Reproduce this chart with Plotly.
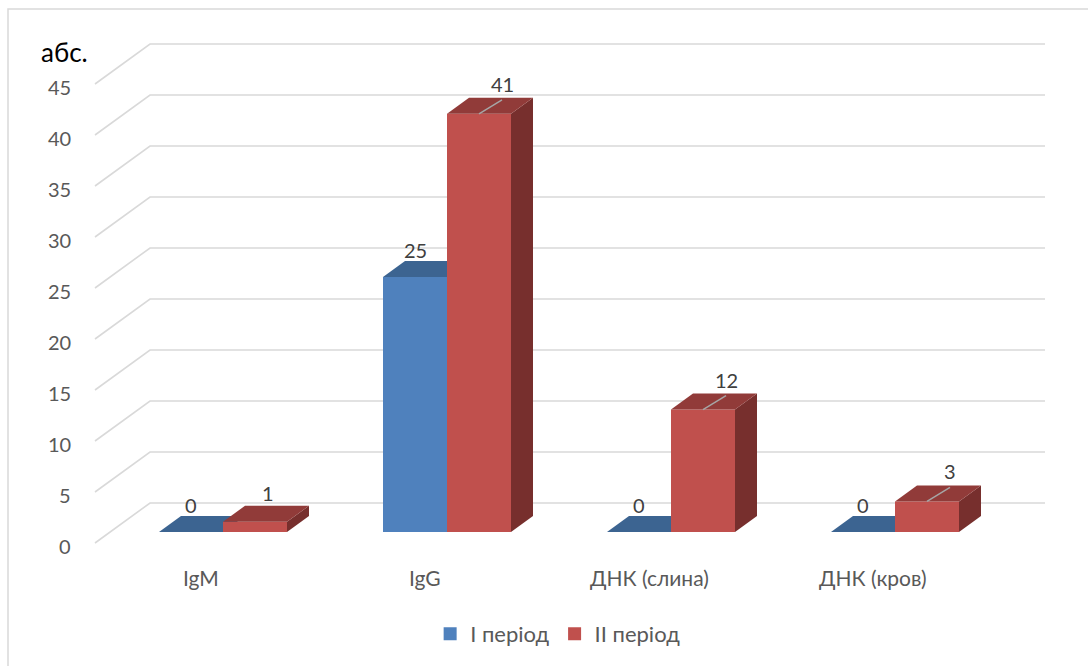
import plotly.graph_objects as go

# ---- data ----
categories = ["IgM", "IgG", "ДНК (слина)", "ДНК (кров)"]
period1 = [0, 25, 0, 0]
period2 = [1, 41, 12, 3]
series_names = ["I період", "II період"]
y_ticks = [0, 5, 10, 15, 20, 25, 30, 35, 40, 45]
y_unit_label = "абс."

# ---- styles / geometry (pixel based) ----
W, H = 1088, 666
PXX = 224.0          # px per category
PXY = 10.2           # px per value unit
X0PX = 223.0         # pixel x of first category centre (front face)
Y0PX = 532.0         # pixel y of value 0 on the bars' front plane
BAR_W = 64.0 / PXX   # bar width in category units
FLOOR_D = (55.0, -40.0)   # oblique vector of full floor depth (px)
F_FRONT, F_BACK = 0.275, 0.675
WALL_RIGHT_PX = 1045.0
WALL_LEFT_FRONT_PX = 95.0

FONT = "Lato"
GRID_C = "#D9D9D9"
TICK_C = "#595959"
LBL_C = "#404040"
col_front = ["#4F81BD", "#C0504D"]
col_top = ["#3C6491", "#913B39"]
col_side = ["#2F5075", "#772F2D"]


def ux(px):
    return px / PXX


def uy(px):
    return -px / PXY   # screen px (down) to value units (up)


def X(px):
    return (px - X0PX) / PXX


def dvec(f):
    return ux(FLOOR_D[0] * f), uy(FLOOR_D[1] * f)


fig = go.Figure()

# gridlines on side + back wall
fdx, fdy = dvec(F_FRONT)
left_front_x = X(WALL_LEFT_FRONT_PX)
for t in y_ticks:
    xs = [left_front_x, left_front_x + ux(FLOOR_D[0]), X(WALL_RIGHT_PX)]
    yf = t - fdy
    yb = yf + uy(FLOOR_D[1])
    fig.add_trace(go.Scatter(x=xs, y=[yf, yb, yb], mode="lines",
                             line=dict(color=GRID_C, width=1.6),
                             hoverinfo="skip", showlegend=False))
    fig.add_annotation(x=X(73), y=yf + uy(3), text=str(t), showarrow=False,
                       xanchor="right", yanchor="middle",
                       font=dict(family=FONT, size=20, color=TICK_C))

# bars
ddx, ddy = dvec(F_BACK - F_FRONT)
for i, cat in enumerate(categories):
    for s, vals in enumerate([period1, period2]):
        v = vals[i]
        x0 = i - BAR_W + s * BAR_W
        x1 = x0 + BAR_W
        # front face
        fig.add_trace(go.Scatter(x=[x0, x1, x1, x0, x0], y=[0, 0, v, v, 0],
                                 fill="toself", fillcolor=col_front[s], mode="lines",
                                 line=dict(width=0, color=col_front[s]),
                                 hoverinfo="skip", showlegend=False))
        # side face
        fig.add_trace(go.Scatter(x=[x1, x1 + ddx, x1 + ddx, x1, x1],
                                 y=[0, ddy, v + ddy, v, 0],
                                 fill="toself", fillcolor=col_side[s], mode="lines",
                                 line=dict(width=0, color=col_side[s]),
                                 hoverinfo="skip", showlegend=False))
        # top face
        fig.add_trace(go.Scatter(x=[x0, x1, x1 + ddx, x0 + ddx, x0],
                                 y=[v, v, v + ddy, v + ddy, v],
                                 fill="toself", fillcolor=col_top[s], mode="lines",
                                 line=dict(width=0, color=col_top[s]),
                                 hoverinfo="skip", showlegend=False))

# data labels
for i in range(len(categories)):
    for s, vals in enumerate([period1, period2]):
        v = vals[i]
        xc = i - BAR_W + s * BAR_W + BAR_W / 2
        if s == 0:
            lx, ly = xc, v + uy(-27)
        else:
            if v >= 2:
                lx, ly = xc + ux(23), v + uy(-30)
                fig.add_trace(go.Scatter(x=[xc, xc + ux(23)], y=[v, v + uy(-14)],
                                         mode="lines", line=dict(color="#A6A6A6", width=1.5),
                                         hoverinfo="skip", showlegend=False))
            else:
                lx, ly = xc + ux(13), v + uy(-29)
        fig.add_annotation(x=lx, y=ly, text=str(v), showarrow=False,
                           xanchor="center", yanchor="middle",
                           font=dict(family=FONT, size=20, color=LBL_C))

# category labels
for i, cat in enumerate(categories):
    fig.add_annotation(x=i + ux(-22), y=uy(577 - Y0PX), text=cat, showarrow=False,
                       xanchor="center", yanchor="middle",
                       font=dict(family=FONT, size=21, color=TICK_C))

# unit label
fig.add_annotation(x=X(39), y=uy(52 - Y0PX), text=y_unit_label, showarrow=False,
                   xanchor="left", yanchor="middle",
                   font=dict(family=FONT, size=26, color="#000000"))

# legend entries
for s, name in enumerate(series_names):
    fig.add_trace(go.Scatter(x=[None], y=[None], mode="markers", name=name,
                             marker=dict(symbol="square", size=13, color=col_front[s])))

# chart border
fig.add_shape(type="rect", xref="paper", yref="paper",
              x0=8 / W, x1=1.2, y0=-0.2, y1=1 - 9 / H,
              line=dict(color=GRID_C, width=1.5))

fig.update_layout(
    width=W, height=H,
    margin=dict(l=0, r=0, t=0, b=0),
    plot_bgcolor="white", paper_bgcolor="white",
    xaxis=dict(range=[X(0), X(W)], visible=False, fixedrange=True),
    yaxis=dict(range=[uy(H - Y0PX), uy(-Y0PX)], visible=False, fixedrange=True),
    showlegend=True,
    legend=dict(orientation="h", x=0.513, xanchor="center", y=1 - 634 / H, yanchor="middle",
                font=dict(family=FONT, size=22, color=TICK_C),
                itemwidth=30, tracegroupgap=0, bgcolor="rgba(0,0,0,0)"),
)

fig.write_html("out.html")
